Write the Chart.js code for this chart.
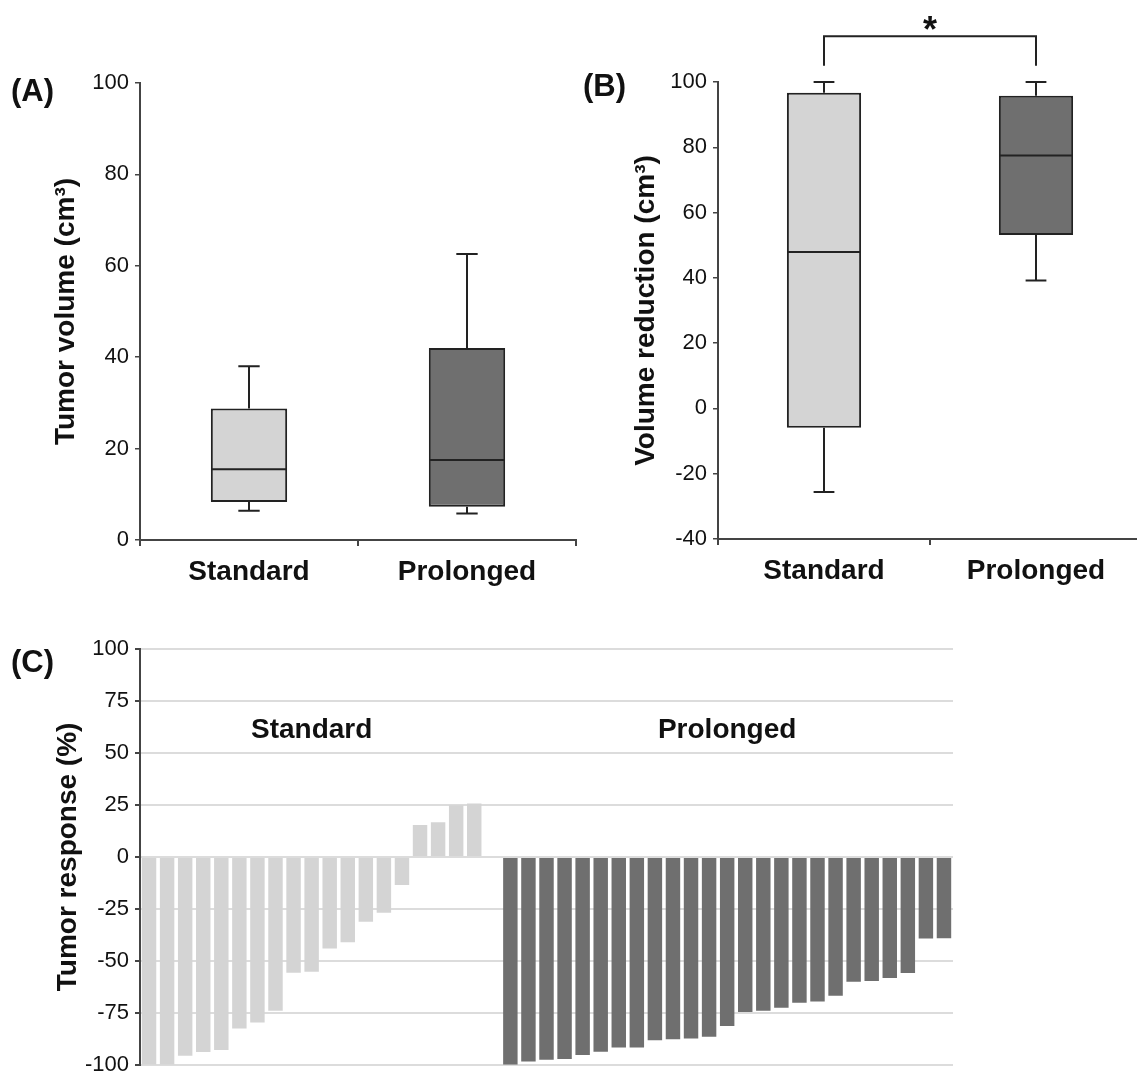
<!DOCTYPE html>
<html>
<head>
<meta charset="utf-8">
<script src="https://cdn.jsdelivr.net/npm/chart.js@4.4.1/dist/chart.umd.min.js"></script>
<style>
  html, body { margin: 0; padding: 0; background: #fff; overflow: hidden; }
  body { width: 1137px; height: 1084px; position: relative; }
  canvas { position: absolute; }
  .panel { position: absolute; font: bold 31px "Liberation Sans", Arial, sans-serif; color: #111; line-height: 1; }
</style>
</head>
<body>
<canvas id="graficoVolumen" width="600" height="580" style="left:0;top:40px"></canvas>
<canvas id="graficoReduccion" width="600" height="620" style="left:560px;top:0"></canvas>
<canvas id="graficoRespuesta" width="1137" height="464" style="left:0;top:620px"></canvas>
<div class="panel" style="left:11px;top:75px">(A)</div>
<div class="panel" style="left:583px;top:70px">(B)</div>
<div class="panel" style="left:11px;top:646px">(C)</div>
<script>
// grupos
const grupos = ['Standard', 'Prolonged'];

// (A) volumen tumoral (cm3)
const volumenMin = [6.4, 5.8];
const volumenQ1 = [8.3, 7.3];
const volumenMediana = [15.5, 17.5];
const volumenQ3 = [28.8, 42.0];
const volumenMax = [38.0, 62.6];

// (B) reduccion de volumen (cm3)
const reduccionMin = [-25.6, 39.2];
const reduccionQ1 = [-5.9, 53.1];
const reduccionMediana = [47.9, 77.5];
const reduccionQ3 = [96.7, 95.8];
const reduccionMax = [100, 100];

// (C) respuesta tumoral (%) por paciente
const respuestaStandard = [-100, -100, -95.7, -93.9, -92.9, -82.5, -79.7, -74.0, -55.7, -55.3,
  -44.1, -41.1, -31.2, -26.9, -13.5, 15.3, 16.7, 24.9, 25.7];
const respuestaProlonged = [-100, -98.4, -97.6, -97.2, -95.3, -93.7, -91.7, -91.7, -88.2, -87.7,
  -87.4, -86.5, -81.3, -74.6, -74.0, -72.6, -70.1, -69.6, -66.8, -60.0, -59.7, -58.3, -55.9,
  -39.2, -39.1];

// ticks
const ticksVolumen = { min: 0, max: 100, step: 20 };
const ticksReduccion = { min: -40, max: 100, step: 20 };
const ticksRespuesta = { min: -100, max: 100, step: 25 };

const FUENTE = '"Liberation Sans", Arial, sans-serif';
const GRIS_CLARO = '#d4d4d4';
const GRIS_OSCURO = '#6f6f6f';
const EJE = '#444';

// bigotes y mediana de las cajas
const cajas = {
    id: 'cajas',
    afterDatasetsDraw(chart, args, opts) {
        const ctx = chart.ctx;
        const y = chart.scales.y;
        ctx.save();
        ctx.strokeStyle = '#222';
        ctx.lineWidth = 2;
        chart.getDatasetMeta(0).data.forEach((bar, i) => {
            const mitad = bar.width / 2 - 1;
            const tope = bar.width * 0.14;
            const yMin = y.getPixelForValue(opts.min[i]);
            const yQ1 = y.getPixelForValue(opts.q1[i]);
            const yMed = y.getPixelForValue(opts.mediana[i]);
            const yQ3 = y.getPixelForValue(opts.q3[i]);
            const yMax = y.getPixelForValue(opts.max[i]);
            ctx.beginPath();
            ctx.moveTo(bar.x - mitad, yMed); ctx.lineTo(bar.x + mitad, yMed);
            ctx.moveTo(bar.x, yQ3); ctx.lineTo(bar.x, yMax);
            ctx.moveTo(bar.x - tope, yMax); ctx.lineTo(bar.x + tope, yMax);
            ctx.moveTo(bar.x, yQ1); ctx.lineTo(bar.x, yMin);
            ctx.moveTo(bar.x - tope, yMin); ctx.lineTo(bar.x + tope, yMin);
            ctx.stroke();
        });
        ctx.restore();
    }
};

// corchete de significancia
const corchete = {
    id: 'corchete',
    afterDraw(chart, args, opts) {
        if (!opts.texto) return;
        const ctx = chart.ctx;
        const x = chart.scales.x, y = chart.scales.y;
        const x1 = x.getPixelForValue(opts.desde), x2 = x.getPixelForValue(opts.hasta);
        const yAlto = y.getPixelForValue(opts.alto), yBase = y.getPixelForValue(opts.base);
        ctx.save();
        ctx.strokeStyle = '#222';
        ctx.lineWidth = 2;
        ctx.beginPath();
        ctx.moveTo(x1, yBase); ctx.lineTo(x1, yAlto); ctx.lineTo(x2, yAlto); ctx.lineTo(x2, yBase);
        ctx.stroke();
        ctx.fillStyle = '#111';
        ctx.font = 'bold 36px ' + FUENTE;
        ctx.textAlign = 'center';
        ctx.textBaseline = 'alphabetic';
        ctx.fillText(opts.texto, (x1 + x2) / 2, y.getPixelForValue(opts.textoY) + 21);
        ctx.restore();
    }
};

// etiquetas de grupo en el grafico de cascada
const etiquetasGrupo = {
    id: 'etiquetasGrupo',
    afterDraw(chart, args, opts) {
        const ctx = chart.ctx;
        const x = chart.scales.x, y = chart.scales.y;
        ctx.save();
        ctx.fillStyle = '#111';
        ctx.font = 'bold 28px ' + FUENTE;
        ctx.textAlign = 'center';
        ctx.textBaseline = 'middle';
        opts.textos.forEach((t, i) => {
            ctx.fillText(t, x.getPixelForValue(opts.indices[i]), y.getPixelForValue(opts.valor));
        });
        ctx.restore();
    }
};

function opcionesCaja(rango, tituloY, anchoY, tituloPad, altoX, padding, extra) {
    return {
        animation: false,
        responsive: false,
        layout: { padding: padding },
        plugins: Object.assign({ legend: { display: false }, tooltip: { enabled: false } }, extra),
        scales: {
            x: {
                grid: { drawOnChartArea: false, color: EJE, tickLength: 6, offset: true, lineWidth: 2 },
                border: { color: EJE, width: 2 },
                ticks: { color: '#111', padding: 9, font: { family: FUENTE, size: 28, weight: 'bold' } },
                afterFit: s => { s.height = altoX; }
            },
            y: {
                min: rango.min, max: rango.max,
                grid: { drawOnChartArea: false, color: EJE, tickLength: 5, lineWidth: 1.5 },
                border: { color: EJE, width: 2 },
                ticks: { stepSize: rango.step, color: '#111', padding: 6, font: { family: FUENTE, size: 22 } },
                title: { display: true, text: tituloY, color: '#111', padding: { top: tituloPad, bottom: 0 },
                         font: { family: FUENTE, size: 28, weight: 'bold' } },
                afterFit: s => { s.width = anchoY; }
            }
        }
    };
}

function datosCaja(q1, q3) {
    return {
        labels: grupos,
        datasets: [{
            data: grupos.map((g, i) => [q1[i], q3[i]]),
            backgroundColor: [GRIS_CLARO, GRIS_OSCURO],
            borderColor: '#222',
            borderWidth: 2,
            borderSkipped: false,
            barPercentage: 0.35,
            categoryPercentage: 1
        }]
    };
}

document.addEventListener('DOMContentLoaded', function () {
    // Grafico A: volumen tumoral
    new Chart(document.getElementById('graficoVolumen').getContext('2d'), {
        type: 'bar',
        data: datosCaja(volumenQ1, volumenQ3),
        options: opcionesCaja(ticksVolumen, 'Tumor volume (cm³)', 140, 49, 80,
            { top: 43, right: 24, bottom: 0, left: 0 },
            { cajas: { min: volumenMin, q1: volumenQ1, mediana: volumenMediana, q3: volumenQ3, max: volumenMax } }),
        plugins: [cajas]
    });

    // Grafico B: reduccion de volumen
    new Chart(document.getElementById('graficoReduccion').getContext('2d'), {
        type: 'bar',
        data: datosCaja(reduccionQ1, reduccionQ3),
        options: opcionesCaja(ticksReduccion, 'Volume reduction (cm³)', 158, 69, 81,
            { top: 82, right: 18, bottom: 0, left: 0 },
            {
                cajas: { min: reduccionMin, q1: reduccionQ1, mediana: reduccionMediana, q3: reduccionQ3, max: reduccionMax },
                corchete: { desde: 0, hasta: 1, alto: 114, base: 105, texto: '*', textoY: 118.8 }
            }),
        plugins: [cajas, corchete]
    });

    // Grafico C: respuesta tumoral (cascada)
    const pacientes = [
        ...respuestaStandard.map((v, i) => 'S' + (i + 1)),
        '',
        ...respuestaProlonged.map((v, i) => 'P' + (i + 1))
    ];
    const respuestas = [...respuestaStandard, null, ...respuestaProlonged];
    const colores = [
        ...respuestaStandard.map(() => GRIS_CLARO),
        GRIS_CLARO,
        ...respuestaProlonged.map(() => GRIS_OSCURO)
    ];
    new Chart(document.getElementById('graficoRespuesta').getContext('2d'), {
        type: 'bar',
        data: {
            labels: pacientes,
            datasets: [{
                data: respuestas,
                backgroundColor: colores,
                barPercentage: 0.8,
                categoryPercentage: 1
            }]
        },
        options: {
            animation: false,
            responsive: false,
            layout: { padding: { top: 29, right: 184, bottom: 12, left: 0 } },
            plugins: {
                legend: { display: false },
                tooltip: { enabled: false },
                etiquetasGrupo: {
                    textos: grupos,
                    indices: [(respuestaStandard.length - 1) / 2,
                              respuestaStandard.length + 1 + (respuestaProlonged.length - 1) / 2],
                    valor: 61
                }
            },
            scales: {
                x: { display: false },
                y: {
                    min: ticksRespuesta.min, max: ticksRespuesta.max,
                    grid: { color: '#dcdcdc', lineWidth: 2, tickColor: EJE, tickLength: 5 },
                    border: { color: EJE, width: 2 },
                    ticks: { stepSize: ticksRespuesta.step, color: '#111', padding: 6, font: { family: FUENTE, size: 22 } },
                    title: { display: true, text: 'Tumor response (%)', color: '#111', padding: { top: 51, bottom: 0 },
                             font: { family: FUENTE, size: 28, weight: 'bold' } },
                    afterFit: s => { s.width = 140; }
                }
            }
        },
        plugins: [etiquetasGrupo]
    });
});
</script>
</body>
</html>
